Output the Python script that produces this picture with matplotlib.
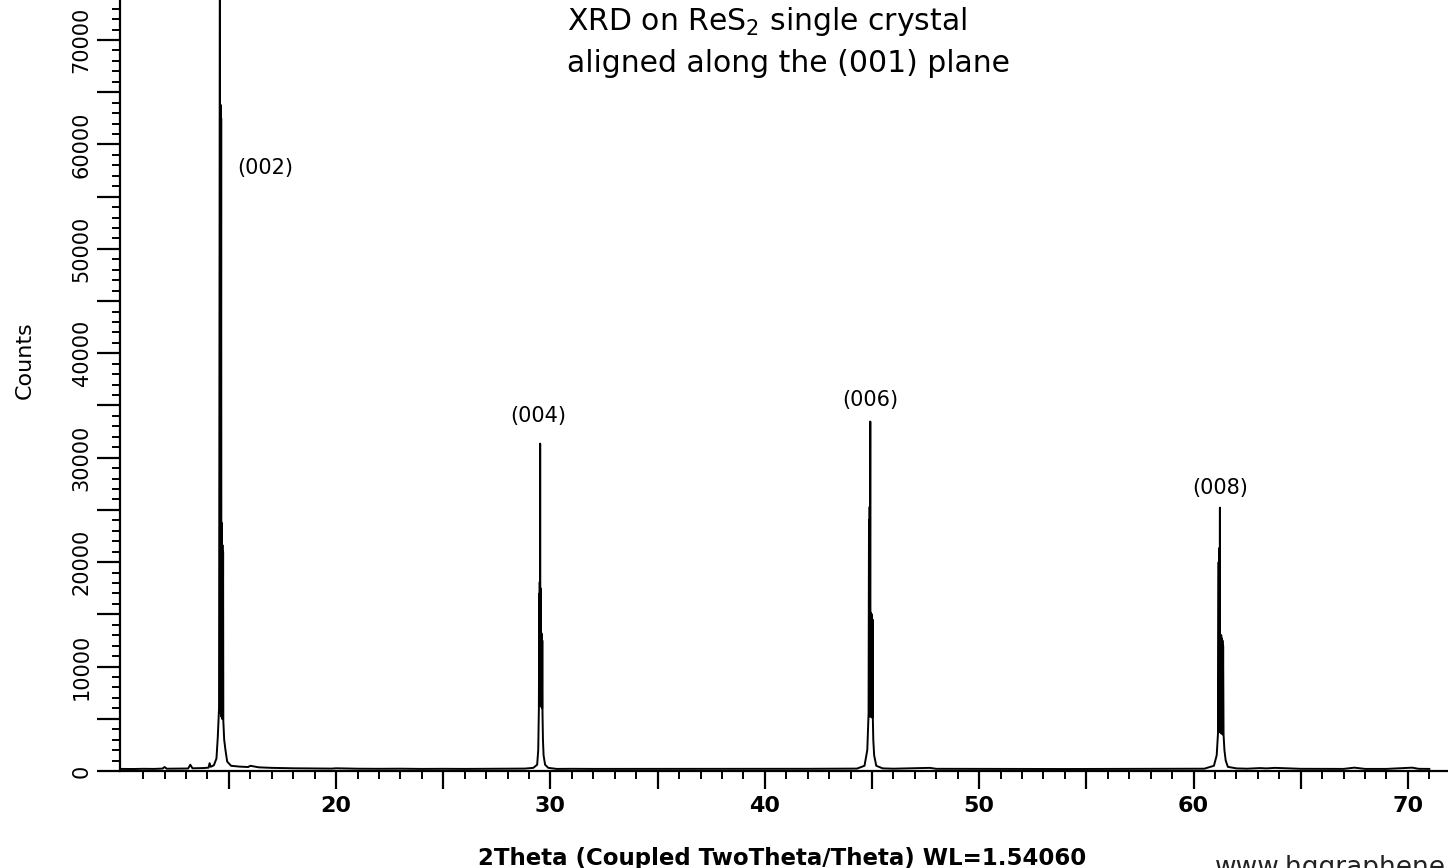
import matplotlib
matplotlib.use("Agg")
import matplotlib.pyplot as plt
from matplotlib.ticker import FixedLocator, FuncFormatter

plt.rcParams['font.family'] = ['DejaVu Sans']
plt.rcParams['mathtext.default'] = 'regular'

# scan pieces: 2theta (deg) and counts
base1_tt = [10.0, 10.5, 11.0, 11.5, 11.9, 12.0, 12.1, 12.6, 13.1, 13.2, 13.3, 13.8, 14.05, 14.1, 14.15, 14.3]
base1_ct = [200, 190, 210, 200, 230, 380, 220, 230, 240, 600, 260, 280, 320, 750, 400, 550]

p002_tt = [14.42, 14.48, 14.54, 14.58, 14.59, 14.61, 14.62, 14.64, 14.65, 14.67, 14.68, 14.70,
           14.71, 14.73, 14.74, 14.78, 14.84, 14.92, 15.1, 15.5, 15.9, 16.0, 16.4]
p002_ct = [1200, 3200, 6000, 78000, 6000, 63800, 5500, 62500, 5200, 23750, 5000, 21640,
           5000, 21000, 4800, 3000, 2000, 900, 500, 420, 380, 500, 350]

base2_tt = [17.0, 18.0, 19.0, 19.8, 20.0, 21.0, 22.0, 23.0, 24.0, 25.0, 26.0, 27.0, 28.0, 28.8, 29.2]
base2_ct = [300, 260, 240, 230, 260, 220, 210, 220, 200, 210, 200, 210, 220, 230, 300]

p004_tt = [29.38, 29.43, 29.46, 29.48, 29.49, 29.50, 29.51, 29.52, 29.53, 29.54, 29.55, 29.56, 29.57,
           29.58, 29.59, 29.60, 29.61, 29.62, 29.63, 29.65, 29.68, 29.75, 29.9, 30.3]
p004_ct = [600, 2000, 6000, 17000, 7000, 18100, 6500, 31350, 6200, 17500, 6300, 13500, 6200,
           13200, 6100, 13000, 6000, 12500, 5500, 3000, 1500, 600, 300, 200]

base3_tt = [31.0, 32.0, 34.0, 36.0, 38.0, 40.0, 42.0, 43.5, 44.3]
base3_ct = [210, 200, 200, 190, 200, 200, 210, 220, 230]

p006_tt = [44.65, 44.78, 44.84, 44.86, 44.87, 44.89, 44.90, 44.92, 44.93, 44.95, 44.96, 44.97,
           44.98, 45.00, 45.01, 45.03, 45.04, 45.06, 45.10, 45.2, 45.5]
p006_ct = [500, 2000, 5500, 24000, 5500, 25300, 5200, 33460, 5300, 15150, 5200, 14800,
           5200, 15000, 5100, 14500, 5000, 3000, 1500, 500, 250]

base4_tt = [46.0, 47.7, 48.0, 50.0, 52.0, 54.0, 56.0, 58.0, 59.5, 60.5]
base4_ct = [220, 300, 210, 200, 200, 190, 200, 200, 210, 220]

p008_tt = [60.95, 61.08, 61.14, 61.17, 61.18, 61.20, 61.21, 61.23, 61.24, 61.26, 61.27, 61.29,
           61.30, 61.32, 61.33, 61.35, 61.36, 61.38, 61.40, 61.44, 61.5, 61.6, 62.0]
p008_ct = [500, 1500, 3600, 20000, 4000, 21350, 3800, 25220, 3700, 12800, 3700, 13020,
           3600, 12700, 3600, 12500, 3500, 12000, 3500, 2000, 1000, 400, 250]

base5_tt = [62.5, 63.1, 63.4, 63.8, 64.4, 65.0, 66.0, 67.0, 67.5, 68.0, 69.0, 70.2, 70.5, 71.0]
base5_ct = [220, 280, 250, 300, 260, 210, 200, 200, 320, 200, 200, 320, 210, 200]

peak_names = ["(002)", "(004)", "(006)", "(008)"]
label_tt = [16.69, 29.43, 44.92, 61.22]
label_ct = [57740, 33990, 35530, 27100]

tt = base1_tt + p002_tt + base2_tt + p004_tt + base3_tt + p006_tt + base4_tt + p008_tt + base5_tt
ct = base1_ct + p002_ct + base2_ct + p004_ct + base3_ct + p006_ct + base4_ct + p008_ct + base5_ct

W, H = 1448, 868
fig = plt.figure(figsize=(W / 100, H / 100), dpi=100)
ax = fig.add_axes([120 / W, 97 / H, 1 - 120 / W, 1 - 97 / H])

ax.plot(tt, ct, color="black", lw=1.4)
ax.set_xlim(9.92, 71.87)
ax.set_ylim(0, 73830)

for s in ["top", "right"]:
    ax.spines[s].set_visible(False)
for s in ["left", "bottom"]:
    ax.spines[s].set_linewidth(1.6)

# x ticks: labels every 10, mid ticks every 5, small every 1
ax.xaxis.set_major_locator(FixedLocator(list(range(15, 72, 5))))
ax.xaxis.set_minor_locator(FixedLocator([v for v in range(11, 72) if v % 5]))
ax.xaxis.set_major_formatter(FuncFormatter(lambda v, p: "%d" % v if v % 10 == 0 else ""))
ax.tick_params(axis="x", which="major", direction="out", length=13, width=1.6, pad=5,
               labelsize=16)
ax.tick_params(axis="x", which="minor", direction="out", length=5.8, width=1.4)
for t in ax.xaxis.get_major_ticks():
    if t.get_loc() % 10:
        t.tick1line.set_markersize(8.6)
for lab in ax.get_xticklabels():
    lab.set_fontweight("bold")

# y ticks
ax.yaxis.set_major_locator(FixedLocator(list(range(0, 73001, 5000))))
ax.yaxis.set_minor_locator(FixedLocator([v for v in range(1000, 73831, 1000) if v % 5000]))
ax.yaxis.set_major_formatter(FuncFormatter(lambda v, p: "%d" % v if v % 10000 == 0 else ""))
ax.tick_params(axis="y", which="major", direction="out", length=16.5, width=1.6, pad=4,
               labelsize=15)
ax.tick_params(axis="y", which="minor", direction="out", length=5.8, width=1.4)
for t in ax.yaxis.get_major_ticks():
    if t.get_loc() % 10000:
        t.tick1line.set_markersize(9.4)
for lab in ax.get_yticklabels():
    lab.set_rotation(90)
    lab.set_va("center")

for name, x, y in zip(peak_names, label_tt, label_ct):
    ax.text(x, y, name, ha="center", va="center", fontsize=15)

fig.text(567 / W, 1 - 22 / H, "XRD on ReS$_2$ single crystal", ha="left", va="center", fontsize=21.5)
fig.text(567 / W, 1 - 63 / H, "aligned along the (001) plane", ha="left", va="center", fontsize=21.5)

fig.text(25 / W, 1 - 360 / H, "Counts", rotation=90, ha="center", va="center", fontsize=16)
fig.text(782 / W, 3 / H, "2Theta (Coupled TwoTheta/Theta) WL=1.54060", ha="center",
         va="baseline", fontsize=16.5, fontweight="bold")
# site name, cut by the lower edge as in the source image
fig.text(1215 / W, 1 - 855 / H, "www.hqgraphene.com", ha="left", va="top", fontsize=19,
         color="#222222")

fig.savefig("out.png", dpi=100)
